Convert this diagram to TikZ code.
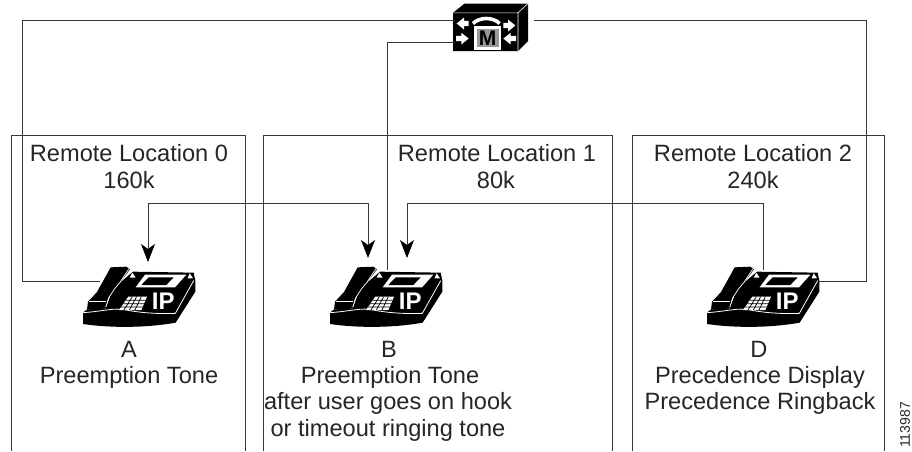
\documentclass[tikz,border=0pt]{standalone}
\usepackage{fontspec}
\setmainfont{Liberation Sans}
\usetikzlibrary{arrows.meta,calc}
\tikzset{
  x=1pt,y=-1pt,
  wall/.style={draw=black!78,line width=.9pt},
  wire/.style={draw=black!78,line width=.8pt},
  arrowwire/.style={wire,-{Stealth[length=18pt,width=14pt,inset=5pt,black]}},
  lbl/.style={font=\fontsize{23.6}{26}\selectfont,text=black!85,inner sep=0pt,anchor=center},
  phonebox/.style={minimum width=113pt,minimum height=61pt,inner sep=0pt,outer sep=0pt},
  mbox/.style={minimum width=78pt,minimum height=49pt,inner sep=0pt,outer sep=0pt},
  phone/.pic={
    \begin{scope}[x=.3333pt,y=-.3333pt,shift={(-250,-228)}]
      % base and body
      \fill[black] (250,368) -- (262,358) -- (318,356) -- (340,296) -- (400,245) -- (582,248) -- (587,272) -- (587,305) -- (528,398)
        .. controls (440,414) and (330,414) .. (250,402) -- cycle;
      % handset
      \fill[black] (333,232) -- (380,230) -- (391,238) -- (350,292) -- (325,325) -- (318,356) -- (262,358) -- (265,335) -- (292,306) -- cycle;
      % white details
      \draw[white,line width=.8pt] (250,368) .. controls (310,364) and (345,352) .. (380,360) .. controls (430,370) and (490,372) .. (527,370);
      \draw[white,line width=.8pt] (527,370) -- (582,272);
      \draw[white,line width=.7pt] (388,236) -- (360,278) -- (345,296) -- (328,322) -- (318,352);
      \draw[white,line width=.7pt] (268,334) -- (318,334);
      \fill[white] (398,248) -- (408,263) -- (390,263) -- cycle;
      \fill[white] (570,250) -- (580,265) -- (564,265) -- cycle;
      % screen
      \fill[white] (436,254) -- (560,254) -- (526,292) -- (408,292) -- cycle;
      \fill[black] (447,262) -- (522,262) -- (500,285) -- (425,285) -- cycle;
      % keypad
      \fill[white] (386,320) -- (442,320) -- (425,360) -- (358,360) -- cycle;
      \draw[black,line width=.7pt] (379,331) -- (437,331) (371,341) -- (433,341) (364,351) -- (429,351)
        (398,320) -- (373,360) (411,320) -- (389,360) (425,320) -- (406,360);
      \node[text=white,inner sep=0pt,font=\fontsize{24}{24}\bfseries\selectfont] at (491,334) {IP};
    \end{scope}
  },
  mcube/.pic={
    \begin{scope}[x=.3333pt,y=-.3333pt,shift={(-105,-12)}]
      \fill[black] (105,40) -- (140,12) -- (330,12) -- (330,125) -- (300,155) -- (105,155) -- cycle;
      \draw[white,line width=.6pt] (105,40) -- (300,40) -- (330,12) (300,40) -- (300,155);
      % handset
      \draw[white,line width=3.6pt] (165,72) .. controls (185,52) and (225,52) .. (245,72);
      % arrows
      \fill[white] (116,72) -- (138,54) -- (138,64) -- (152,64) -- (152,80) -- (138,80) -- (138,90) -- cycle;
      \fill[white] (152,117) -- (130,100) -- (130,109) -- (114,109) -- (114,125) -- (130,125) -- (130,135) -- cycle;
      \fill[white] (292,78) -- (270,60) -- (270,70) -- (256,70) -- (256,86) -- (270,86) -- (270,96) -- cycle;
      \fill[white] (256,117) -- (278,100) -- (278,109) -- (294,109) -- (294,125) -- (278,125) -- (278,135) -- cycle;
      % M
      \fill[white] (168,80) rectangle (250,150);
      \fill[black!40] (176,88) rectangle (242,142);
      \node[text=black,inner sep=0pt,font=\fontsize{21}{21}\bfseries\selectfont] at (209,116) {M};
    \end{scope}
  }
}
\begin{document}
\begin{tikzpicture}
\useasboundingbox (0,0) rectangle (912,451);
\fill[white] (0,0) rectangle (912,451);
% location boxes
\draw[wall] (11,451) -- (11,135) -- (245,135) -- (245,451);
\draw[wall] (263,451) -- (263,135) -- (612,135) -- (612,451);
\draw[wall] (632,451) -- (632,135) -- (884,135) -- (884,451);

\node[mbox] (mgr) at (492,28) {};
\pic at (mgr.north west) {mcube};
\node[phonebox] (pA) at (139.5,296.5) {};
\node[phonebox] (pB) at (386.5,296.5) {};
\node[phonebox] (pD) at (763.5,296.5) {};

\coordinate (mL1) at ($(mgr.west)+(2,-8)$);
\coordinate (mL2) at ($(mgr.west)+(2,14)$);
\coordinate (mR) at ($(mgr.east)+(3,-8)$);

\draw[wire] (mL1) -- (22,20) -- (22,281) -- ($(pA.north west)+(17,15)$);
\draw[wire] (mL2) -- (387,42) -- ($(pB.north west)+(57,4)$);
\draw[wire] (mR) -- (866,20) -- (866,281) -- ($(pD.north east)+(-1,15)$);
\draw[arrowwire] (368,203) -- (148,203) -- ($(pA.north west)+(65,-4)$);
\draw[arrowwire] (148,203) -- (368,203) -- ($(pB.north west)+(38,-8)$);
\draw[arrowwire] ($(pD.north west)+(56,4)$) -- (763,203) -- (407,203) -- ($(pB.north west)+(77,-8)$);

\pic at (pA.north west) {phone};
\pic at (pB.north west) {phone};
\pic at (pD.north west) {phone};

\node[lbl] (t0) at (129,153) {Remote Location 0};
\node[lbl] (t0b) at (129,180) {160k};
\node[lbl] (t1) at (497,153) {Remote Location 1};
\node[lbl] (t1b) at (496,180) {80k};
\node[lbl] (t2) at (753,153) {Remote Location 2};
\node[lbl] (t2b) at (753,180) {240k};
\node[lbl] (a) at (129,349) {A};
\node[lbl] (a2) at (129,377) {Preemption Tone};
\node[lbl] (b) at (389,349) {B};
\node[lbl] (b2) at (390,377) {Preemption Tone};
\node[lbl] (b3) at (388,403) {after user goes on hook};
\node[lbl] (b4) at (388,430) {or timeout ringing tone};
\node[lbl] (d) at (759,349) {D};
\node[lbl] (d2) at (760,377) {Precedence Display};
\node[lbl] (d3) at (760,403) {Precedence Ringback};
\node[rotate=90,inner sep=0pt,font=\fontsize{14}{15}\selectfont,text=black!85] (id) at (905,425) {113987};
\end{tikzpicture}
\end{document}
